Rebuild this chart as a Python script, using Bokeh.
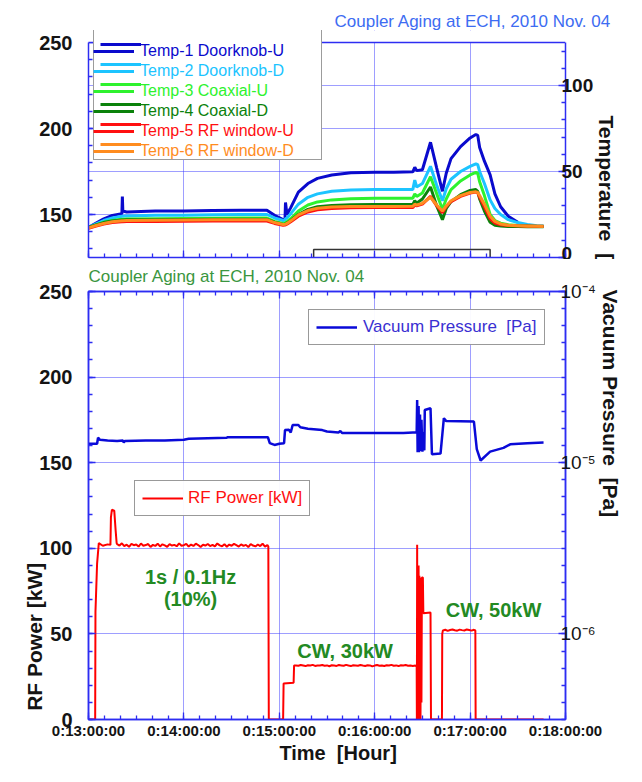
import numpy as np
from bokeh.plotting import figure
from bokeh.layouts import column
from bokeh.models import (Range1d, LinearAxis, LogAxis, LogScale, FixedTicker,
                          Legend, LegendItem, ColumnDataSource, BoxAnnotation, Span,
                          CustomJSTickFormatter)
from bokeh.core.properties import value
from bokeh.embed import file_html
from bokeh.resources import INLINE

FONT = "Liberation Sans"
AXIS_COLOR = "#2d2df2"
GRID_COLOR = "#3c3cff"
TEXT_COLOR = "#141414"
GREEN_TXT = "#238a23"
NB = "\u00a0"

# ---------------- data ----------------
title_text = "Coupler Aging at ECH, 2010 Nov. 04"
x_ticks = [13, 14, 15, 16, 17, 18]
x_tick_labels = ["0:13:00:00", "0:14:00:00", "0:15:00:00", "0:16:00:00", "0:17:00:00", "0:18:00:00"]

temp_names = ["Temp-1 Doorknob-U", "Temp-2 Doorknob-D", "Temp-3 Coaxial-U",
              "Temp-4 Coaxial-D", "Temp-5 RF window-U", "Temp-6 RF window-D"]
temp_colors = ["#0a0acd", "#1cc4ff", "#2ef22e", "#0b820b", "#ff1010", "#ff8c1f"]

temp_time = [13.00, 13.08, 13.16, 13.25, 13.35, 13.355, 13.36, 13.40, 13.70, 14.00,
             14.30, 14.60, 14.87, 14.95, 15.04, 15.06, 15.065, 15.08, 15.12, 15.20,
             15.30, 15.40, 15.55, 15.75, 16.00, 16.20, 16.40, 16.42, 16.44, 16.50,
             16.585, 16.65, 16.71, 16.75, 16.80, 16.90, 17.00, 17.06, 17.08, 17.10,
             17.15, 17.21, 17.26, 17.32, 17.40, 17.50, 17.60, 17.70, 17.77]
temp1 = [17.5, 20.0, 22.5, 24.5, 25.5, 35.5, 27.0, 26.5, 27.0, 27.0,
         27.3, 27.5, 27.5, 24.5, 22.0, 22.5, 32.0, 25.0, 29.0, 38.0,
         43.0, 46.0, 48.0, 49.3, 49.5, 49.6, 49.8, 52.5, 50.5, 51.0,
         67.0, 52.0, 38.5, 49.0, 57.5, 64.5, 69.5, 71.5, 71.0, 64.0,
         56.0, 48.0, 37.0, 29.5, 24.0, 20.5, np.nan, np.nan, np.nan]
temp2 = [17.5, 19.5, 21.5, 23.0, 24.0, 24.0, 24.0, 24.2, 24.5, 24.6,
         24.8, 25.0, 25.0, 23.0, 21.5, 22.0, 22.5, 23.0, 25.5, 31.0,
         35.0, 37.0, 38.5, 39.3, 39.5, 39.5, 39.6, 45.0, 41.0, 43.0,
         53.0, 42.0, 33.0, 40.0, 45.5, 50.0, 53.0, 54.5, 54.0, 50.0,
         43.0, 33.5, 28.5, 25.0, 22.0, 20.3, 19.2, 18.5, 18.3]
temp3 = [17.5, 19.0, 20.5, 21.5, 22.2, 22.2, 22.2, 22.4, 22.6, 22.7,
         22.8, 22.9, 22.9, 21.0, 19.8, 20.0, 20.3, 20.8, 22.5, 27.0,
         30.5, 32.3, 33.5, 34.2, 34.4, 34.5, 34.5, 37.0, 35.5, 37.5,
         47.0, 37.0, 28.0, 34.0, 39.5, 44.5, 48.0, 49.5, 49.0, 44.0,
         36.0, 25.0, 21.5, 20.0, 19.0, 18.6, 18.4, 18.2, 18.1]
temp4 = [17.5, 19.0, 20.3, 21.2, 21.8, 21.8, 21.8, 21.9, 22.0, 22.1,
         22.2, 22.2, 22.2, 20.5, 19.2, 19.4, 19.6, 20.0, 21.5, 25.0,
         28.0, 29.5, 30.3, 30.7, 30.8, 30.8, 30.9, 33.0, 31.5, 34.0,
         41.0, 30.0, 22.0, 28.5, 32.5, 36.5, 39.0, 39.5, 38.5, 34.0,
         27.0, 20.5, 18.8, 18.3, 18.0, 18.0, 17.9, 17.9, 17.9]
temp5 = [17.0, 18.3, 19.5, 20.3, 20.8, 20.8, 20.8, 20.9, 21.0, 21.1,
         21.2, 21.2, 21.2, 19.8, 18.8, 18.9, 19.0, 19.4, 20.8, 24.0,
         26.5, 27.8, 28.5, 28.9, 29.0, 29.0, 29.1, 30.5, 30.0, 31.0,
         35.5, 30.0, 26.0, 29.5, 32.5, 35.5, 37.5, 38.0, 37.5, 35.0,
         29.5, 22.5, 20.0, 19.0, 18.6, 18.4, 18.3, 18.2, 18.2]
temp6 = [17.2, 18.6, 19.8, 20.8, 21.4, 21.4, 21.4, 21.5, 21.7, 21.8,
         21.9, 22.0, 22.0, 20.3, 19.2, 19.3, 19.4, 19.8, 21.3, 24.8,
         27.3, 28.6, 29.3, 29.6, 29.7, 29.7, 29.8, 31.0, 30.5, 31.5,
         35.0, 30.5, 27.0, 30.0, 33.0, 36.0, 37.8, 38.2, 37.8, 36.0,
         31.0, 24.0, 21.0, 19.5, 18.8, 18.4, 18.2, 18.1, 18.0]
temp_series = [temp1, temp2, temp3, temp4, temp5, temp6]

# RF power [kW]
rf_time_start = [13.00, 13.07, 13.073, 13.09, 13.108, 13.15, 13.20, 13.23, 13.235, 13.245, 13.27, 13.285, 13.295]
rf_kw_start = [0, 0, 63, 91, 103, 101.5, 102.3, 102.0, 118.0, 122.5, 122.0, 110.0, 103.0]
rf_time_100 = list(np.round(13.30 + 0.025 * np.arange(64), 4))
rf_kw_100 = [102.4, 101.6, 102.9, 101.3, 102.1, 100.9, 102.6, 101.8, 102.2, 101.0,
             102.8, 101.5, 101.9, 102.5, 100.8, 102.0, 101.4, 102.7, 101.1, 102.3,
             101.7, 100.9, 102.4, 101.6, 102.0, 101.2, 102.9, 101.5, 101.8, 102.6,
             101.0, 102.2, 101.4, 102.7, 101.9, 100.8, 102.1, 101.6, 102.5, 101.3,
             102.0, 101.1, 102.8, 101.7, 101.2, 102.4, 100.9, 102.2, 101.5, 102.6,
             101.8, 101.0, 102.3, 101.4, 102.0, 100.7, 102.5, 101.6, 101.1, 102.2,
             101.3, 102.7, 101.0, 101.9]
rf_time_gap = [14.885, 14.89, 15.04, 15.045, 15.15, 15.155]
rf_kw_gap = [101.0, 0, 0, 21.0, 21.5, 31.5]
rf_time_30 = list(np.round(15.175 + 0.025 * np.arange(51), 4))
rf_kw_30 = [31.6, 31.4, 31.8, 31.5, 31.2, 31.7, 31.5, 31.9, 31.3, 31.6,
            31.5, 31.8, 31.4, 31.6, 31.1, 31.7, 31.5, 31.3, 31.8, 31.6,
            31.4, 31.9, 31.5, 31.2, 31.7, 31.6, 31.4, 31.8, 31.5, 31.3,
            31.7, 31.6, 31.0, 31.5, 31.8, 31.4, 31.6, 31.3, 31.7, 31.5,
            31.9, 31.4, 31.6, 31.2, 31.7, 31.5, 31.8, 31.4, 31.6, 31.3, 31.5]
rf_time_spk = [16.44, 16.442, 16.445, 16.448, 16.452, 16.456, 16.46, 16.464, 16.468, 16.472,
               16.476, 16.48, 16.485, 16.49, 16.495, 16.505, 16.51, 16.585, 16.59, 16.705, 16.708]
rf_kw_spk = [31.0, 0, 102.0, 0, 84.0, 0, 90.0, 0, 84.0, 5.0,
             83.0, 0, 80.0, 10.0, 83.0, 83.0, 62.0, 62.5, 0, 0, 50.0]
rf_time_50 = list(np.round(16.715 + 0.025 * np.arange(14), 4))
rf_kw_50 = [52.0, 52.4, 51.8, 52.3, 52.6, 52.1, 51.9, 52.5, 52.2, 52.0, 52.6, 52.3, 51.9, 52.4]
rf_time_end = [17.055, 17.058, 17.77]
rf_kw_end = [52.0, 0, 0]

rf_time = rf_time_start + rf_time_100 + rf_time_gap + rf_time_30 + rf_time_spk + rf_time_50 + rf_time_end
rf_kw = rf_kw_start + rf_kw_100 + rf_kw_gap + rf_kw_30 + rf_kw_spk + rf_kw_50 + rf_kw_end

# Vacuum pressure [Pa]
vac_time = [13.00, 13.09, 13.10, 13.12, 13.20, 13.30, 13.36, 13.37, 13.38, 13.60,
            13.80, 14.00, 14.05, 14.25, 14.45, 14.46, 14.70, 14.88, 14.90, 14.95,
            15.00, 15.05, 15.06, 15.10, 15.12, 15.14, 15.20, 15.22, 15.30, 15.45,
            15.50, 15.62, 15.64, 15.66, 16.00, 16.30, 16.40, 16.44, 16.445, 16.45,
            16.46, 16.465, 16.475, 16.48, 16.49, 16.50, 16.51, 16.52, 16.525, 16.585,
            16.60, 16.69, 16.725, 16.75, 17.04, 17.07, 17.11, 17.21, 17.35, 17.42,
            17.60, 17.77]
vac_pa = [1.29e-5, 1.29e-5, 1.40e-5, 1.36e-5, 1.35e-5, 1.34e-5, 1.35e-5, 1.31e-5, 1.34e-5, 1.35e-5,
          1.35e-5, 1.36e-5, 1.38e-5, 1.39e-5, 1.40e-5, 1.41e-5, 1.41e-5, 1.41e-5, 1.30e-5, 1.27e-5,
          1.29e-5, 1.30e-5, 1.55e-5, 1.56e-5, 1.50e-5, 1.66e-5, 1.66e-5, 1.61e-5, 1.58e-5, 1.55e-5,
          1.52e-5, 1.50e-5, 1.53e-5, 1.49e-5, 1.49e-5, 1.49e-5, 1.50e-5, 1.50e-5, 2.32e-5, 1.15e-5,
          2.14e-5, 1.15e-5, 1.91e-5, 1.17e-5, 1.78e-5, 1.16e-5, 1.51e-5, 1.18e-5, 2.03e-5, 2.08e-5,
          1.12e-5, 1.13e-5, 1.82e-5, 1.75e-5, 1.74e-5, 1.20e-5, 1.03e-5, 1.16e-5, 1.22e-5, 1.28e-5,
          1.30e-5, 1.31e-5]

ann_text = ["1s / 0.1Hz", "(10%)", "CW, 30kW", "CW, 50kW"]
ann_time = [14.07, 14.07, 15.69, 17.245]
ann_kw = [83.3, 70.2, 40.0, 64.0]

# clipped frame of a legend box peeking into the upper panel
ghost_left, ghost_right, ghost_bottom, ghost_top = [15.36], [17.21], [-10.0], [4.7]

TEMP_MAX = 125.0                      # visible top of the temperature panel
TEMP_TOP = TEMP_MAX * 227.0 / 215.0   # extra room above it for the legend box


def style_axis(ax, tick_size="20px", label_size="21px"):
    ax.axis_line_color = AXIS_COLOR
    ax.axis_line_width = 1.5
    ax.major_tick_line_color = AXIS_COLOR
    ax.minor_tick_line_color = AXIS_COLOR
    ax.major_tick_line_width = 1.3
    ax.minor_tick_line_width = 1.3
    ax.major_tick_in = 7
    ax.major_tick_out = 0
    ax.minor_tick_in = 4
    ax.minor_tick_out = 0
    ax.major_label_text_font = FONT
    ax.major_label_text_font_size = tick_size
    ax.major_label_text_font_style = "bold"
    ax.major_label_text_color = TEXT_COLOR
    ax.axis_label_text_font = FONT
    ax.axis_label_text_font_style = "bold"
    ax.axis_label_text_font_size = label_size
    ax.axis_label_text_color = TEXT_COLOR


def style_grids(p, xt, yt):
    for g in p.xgrid:
        g.ticker = FixedTicker(ticks=xt)
    for g in p.ygrid:
        g.ticker = FixedTicker(ticks=yt)
    for g in list(p.xgrid) + list(p.ygrid):
        g.grid_line_color = GRID_COLOR
        g.grid_line_dash = "1 1"
        g.grid_line_width = 1


x_minor = [13 + k / 6 for k in range(31)]
x_range = Range1d(13, 18)

# ---------------- top panel (temperatures) ----------------
p1 = figure(width=626, height=259, x_range=x_range, y_range=Range1d(0, TEMP_TOP),
            x_axis_location="below", y_axis_location="right",
            output_backend="svg", toolbar_location=None,
            min_border_left=88, min_border_right=61, min_border_top=30, min_border_bottom=2,
            background_fill_color="white", border_fill_color="white")
p1.extra_y_ranges = {"left": Range1d(125, 125 + TEMP_TOP)}
p1.outline_line_color = None

p1.title.text = title_text
p1.title.text_color = "#3d6cf2"
p1.title.text_font = FONT
p1.title.text_font_size = "17px"
p1.title.text_font_style = "normal"
p1.title.align = "left"
p1.title.offset = 246
p1.title.standoff = 0

xa1 = p1.xaxis[0]
xa1.ticker = FixedTicker(ticks=x_ticks, minor_ticks=x_minor)
xa1.major_label_overrides = {t: "" for t in x_ticks}
style_axis(xa1, tick_size="1px")
xa1.major_label_standoff = 0

ya1 = p1.yaxis[0]
ya1.ticker = FixedTicker(ticks=[0, 50, 100], minor_ticks=list(range(0, 130, 10)))
ya1.bounds = (0, TEMP_MAX)
style_axis(ya1, tick_size="19px")
ya1.axis_label = NB * 15 + "Temperature" + NB + " ["
ya1.major_label_standoff = -4
ya1.axis_label_standoff = -1

la1 = LinearAxis(y_range_name="left", bounds=(125, 250),
                 ticker=FixedTicker(ticks=[150, 200, 250], minor_ticks=list(range(130, 250, 10))))
style_axis(la1)
la1.major_label_standoff = 16
p1.add_layout(la1, "left")

style_grids(p1, [14, 15, 16, 17], [25, 50, 75, 100])

p1.quad(left=ghost_left, right=ghost_right, bottom=ghost_bottom, top=ghost_top,
        fill_color="white", line_color="#333333", line_width=1.5)

temp_src = ColumnDataSource(dict(t=temp_time, **{f"T{i+1}": s for i, s in enumerate(temp_series)}))
temp_rs = []
for i in range(6):
    r = p1.line("t", f"T{i+1}", source=temp_src, line_color=temp_colors[i], line_width=3)
    temp_rs.append(r)

# white band above the visible frame top, and the top edge of the frame
p1.add_layout(BoxAnnotation(bottom=TEMP_MAX, fill_color="white", fill_alpha=1.0, line_color=None))
p1.add_layout(Span(location=TEMP_MAX, dimension="width", line_color=AXIS_COLOR, line_width=1.5))

LEG_COMMON = dict(padding=6, glyph_width=41, glyph_height=18, label_height=18, spacing=2,
                  label_standoff=6, label_text_font=FONT, label_text_font_size="16px")
bg_leg = Legend(items=[LegendItem(label=" ", renderers=[r]) for r in temp_rs],
                location=(5, 97), label_width=168,
                border_line_color="#3a3a3a", border_line_width=1.5,
                background_fill_color="white", background_fill_alpha=1.0, **LEG_COMMON)
p1.add_layout(bg_leg)
for j, r in enumerate(temp_rs):
    lg = Legend(items=[LegendItem(label=temp_names[j], renderers=[r])],
                location=(5, 197 - 20 * j), border_line_color=None,
                background_fill_alpha=0.0, label_text_color=temp_colors[j], **LEG_COMMON)
    p1.add_layout(lg)

# ---------------- bottom panel (RF power & vacuum) ----------------
p2 = figure(width=626, height=507, x_range=x_range, y_range=Range1d(0, 250),
            output_backend="svg", toolbar_location=None,
            min_border_left=88, min_border_right=61, min_border_top=31, min_border_bottom=46,
            background_fill_color="white", border_fill_color="white")
p2.extra_y_ranges = {"vac": Range1d(10 ** -6.5, 1e-4)}
p2.extra_y_scales = {"vac": LogScale()}
p2.outline_line_color = AXIS_COLOR
p2.outline_line_width = 1.5

p2.title.text = title_text
p2.title.text_color = "#3a9640"
p2.title.text_font = FONT
p2.title.text_font_size = "17px"
p2.title.text_font_style = "normal"
p2.title.align = "left"
p2.title.standoff = 11

xa2 = p2.xaxis[0]
xa2.ticker = FixedTicker(ticks=x_ticks, minor_ticks=x_minor)
xa2.major_label_overrides = dict(zip(x_ticks, x_tick_labels))
style_axis(xa2, tick_size="15px", label_size="20px")
xa2.axis_label = NB * 4 + "Time" + NB + " [Hour]"
xa2.major_label_standoff = 2
xa2.axis_label_standoff = 0

ya2 = p2.yaxis[0]
ya2.ticker = FixedTicker(ticks=[0, 50, 100, 150, 200, 250], minor_ticks=list(range(0, 260, 10)))
style_axis(ya2)
ya2.axis_label = "RF Power [kW]" + NB * 45
ya2.major_label_standoff = 16
ya2.axis_label_standoff = -10

top2 = LinearAxis(ticker=FixedTicker(ticks=x_ticks, minor_ticks=x_minor))
top2.major_label_overrides = {t: "" for t in x_ticks}
style_axis(top2, tick_size="1px")
top2.major_label_standoff = 0
p2.add_layout(top2, "above")

sup_fmt = CustomJSTickFormatter(code="""
const sup = {"-": "\u207b", "0": "\u2070", "1": "\u00b9", "2": "\u00b2", "3": "\u00b3",
             "4": "\u2074", "5": "\u2075", "6": "\u2076", "7": "\u2077", "8": "\u2078", "9": "\u2079"};
const e = Math.round(Math.log10(tick));
return "10" + String(e).split("").map((c) => sup[c]).join("");
""")
vac_axis = LogAxis(y_range_name="vac", formatter=sup_fmt,
                   ticker=FixedTicker(ticks=[1e-6, 1e-5, 1e-4],
                                      minor_ticks=[10 ** (-6.5 + 0.1 * k) for k in range(26)]))
style_axis(vac_axis, tick_size="19px")
vac_axis.major_label_text_font_style = "normal"
vac_axis.axis_label = "Vacuum Pressure" + NB + " [Pa]" + NB * 35
vac_axis.major_label_standoff = -5
vac_axis.axis_label_standoff = 0
p2.add_layout(vac_axis, "right")

style_grids(p2, [14, 15, 16, 17], [50, 100, 150, 200])

vac_r = p2.line(vac_time, vac_pa, y_range_name="vac", line_color="#0a0ad8", line_width=2.5)
rf_r = p2.line(rf_time, rf_kw, line_color="#ff0000", line_width=2)

ann_src = ColumnDataSource(dict(t=ann_time, kw=ann_kw, text=ann_text))
p2.text("t", "kw", text="text", source=ann_src, text_align="center", text_baseline="middle",
        text_font=value(FONT), text_font_size="20px", text_font_style="bold", text_color=GREEN_TXT)

vac_leg = Legend(items=[LegendItem(label="Vacuum Pressure" + NB + " [Pa]", renderers=[vac_r])],
                 location=(220, 374), padding=7, glyph_width=41, glyph_height=18, label_height=18,
                 label_standoff=6, label_text_font=FONT, label_text_font_size="17px",
                 label_text_color="#3a30d2", border_line_color="#333333", border_line_width=1.5,
                 background_fill_color="white")
rf_leg = Legend(items=[LegendItem(label="RF Power [kW]", renderers=[rf_r])],
                location=(46, 203), padding=7, glyph_width=41, glyph_height=18, label_height=18,
                label_standoff=5, label_text_font=FONT, label_text_font_size="17px",
                label_text_color="#ff1010", border_line_color="#333333", border_line_width=1.5,
                background_fill_color="white")
p2.add_layout(vac_leg)
p2.add_layout(rf_leg)

layout = column(p1, p2, spacing=0)
open("out.html", "w").write(file_html(layout, INLINE))
